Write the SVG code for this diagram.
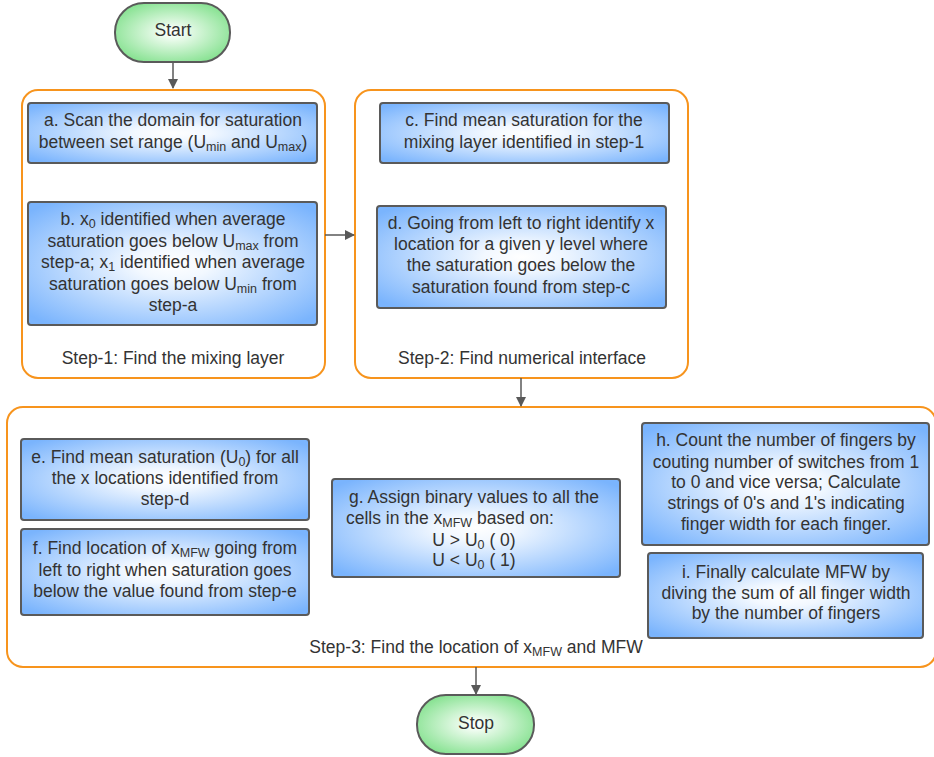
<svg xmlns="http://www.w3.org/2000/svg" width="934" height="757" viewBox="0 0 934 757">
<defs>
<radialGradient id="gBlue" cx="50%" cy="50%" r="65%">
<stop offset="0" stop-color="#ffffff"/>
<stop offset="0.2" stop-color="#f2f8ff"/>
<stop offset="1" stop-color="#7ab4fd"/>
</radialGradient>
<radialGradient id="gGreen" cx="50%" cy="50%" r="65%">
<stop offset="0" stop-color="#ffffff"/>
<stop offset="0.15" stop-color="#effcf0"/>
<stop offset="1" stop-color="#74dd80"/>
</radialGradient>
<marker id="arr" markerWidth="10" markerHeight="10" refX="9" refY="5" orient="auto" markerUnits="userSpaceOnUse">
<path d="M0,0 L10,5 L0,10 Z" fill="#595959"/>
</marker>
<style>
.box{fill:url(#gBlue);stroke:#5a5a5a;stroke-width:2}
.term{fill:url(#gGreen);stroke:#5a5a5a;stroke-width:2}
.grp{fill:#ffffff;stroke:#f7941d;stroke-width:2}
.t{font-family:"Liberation Sans",Arial,sans-serif;font-size:17.5px;fill:#333333;text-anchor:middle}
.l{text-anchor:start}
.s{font-size:12.5px}
.c{fill:none;stroke:#595959;stroke-width:1.5}
</style>
</defs>

<g id="step1">
<rect class="grp" x="22" y="90" width="303" height="288" rx="16"/>
<text class="t" x="173" y="364">Step-1: Find the mixing layer</text>
</g>
<g id="step2">
<rect class="grp" x="355" y="90" width="333" height="288" rx="16"/>
<text class="t" x="522" y="364">Step-2: Find numerical interface</text>
</g>
<g id="step3">
<rect class="grp" x="7" y="407" width="929" height="260" rx="16"/>
<text class="t" x="476" y="653">Step-3: Find the location of x<tspan class="s" dy="3">MFW</tspan><tspan dy="-3"> and MFW</tspan></text>
</g>

<g id="connectors">
<line class="c" x1="173" y1="62" x2="173" y2="88" marker-end="url(#arr)"/>
<line class="c" x1="325" y1="235" x2="354" y2="235" marker-end="url(#arr)"/>
<line class="c" x1="521" y1="378" x2="521" y2="406" marker-end="url(#arr)"/>
<line class="c" x1="476" y1="667" x2="476" y2="694" marker-end="url(#arr)"/>
</g>

<g id="start">
<rect class="term" x="115" y="3" width="115" height="59" rx="29"/>
<text class="t" x="173" y="36">Start</text>
</g>

<g id="a">
<rect class="box" x="28" y="103" width="289" height="60" rx="3"/>
<text class="t" x="173" y="126">a. Scan the domain for saturation</text>
<text class="t" x="173" y="148">between set range (U<tspan class="s" dy="3">min</tspan><tspan dy="-3"> and U</tspan><tspan class="s" dy="3">max</tspan><tspan dy="-3">)</tspan></text>
</g>

<g id="b">
<rect class="box" x="28" y="202" width="289" height="123" rx="3"/>
<text class="t" x="173" y="225">b. x<tspan class="s" dy="3">0</tspan><tspan dy="-3"> identified when average</tspan></text>
<text class="t" x="173" y="247">saturation goes below U<tspan class="s" dy="3">max</tspan><tspan dy="-3"> from</tspan></text>
<text class="t" x="173" y="268">step-a; x<tspan class="s" dy="3">1</tspan><tspan dy="-3"> identified when average</tspan></text>
<text class="t" x="173" y="290">saturation goes below U<tspan class="s" dy="3">min</tspan><tspan dy="-3"> from</tspan></text>
<text class="t" x="173" y="311">step-a</text>
</g>

<g id="c">
<rect class="box" x="380" y="103" width="289" height="60" rx="3"/>
<text class="t" x="524" y="126">c. Find mean saturation for the</text>
<text class="t" x="524" y="148">mixing layer identified in step-1</text>
</g>

<g id="d">
<rect class="box" x="377" y="206" width="289" height="102" rx="3"/>
<text class="t" x="521" y="229">d. Going from left to right identify x</text>
<text class="t" x="521" y="250">location for a given y level where</text>
<text class="t" x="521" y="271">the saturation goes below the</text>
<text class="t" x="521" y="293">saturation found from step-c</text>
</g>

<g id="e">
<rect class="box" x="21" y="439" width="288" height="81" rx="3"/>
<text class="t" x="165" y="463">e. Find mean saturation (U<tspan class="s" dy="3">0</tspan><tspan dy="-3">) for all</tspan></text>
<text class="t" x="165" y="484">the x locations identified from</text>
<text class="t" x="165" y="505">step-d</text>
</g>

<g id="f">
<rect class="box" x="21" y="529" width="288" height="86" rx="3"/>
<text class="t" x="165" y="554">f. Find location of x<tspan class="s" dy="3">MFW</tspan><tspan dy="-3"> going from</tspan></text>
<text class="t" x="165" y="576">left to right when saturation goes</text>
<text class="t" x="165" y="597">below the value found from step-e</text>
</g>

<g id="g">
<rect class="box" x="332" y="479" width="288" height="98" rx="3"/>
<text class="t l" x="349" y="503">g. Assign binary values to all the</text>
<text class="t l" x="346" y="524">cells in the x<tspan class="s" dy="3">MFW</tspan><tspan dy="-3"> based on:</tspan></text>
<text class="t" x="474" y="546">U &gt; U<tspan class="s" dy="3">0</tspan><tspan dy="-3"> ( 0)</tspan></text>
<text class="t" x="474" y="566">U &lt; U<tspan class="s" dy="3">0</tspan><tspan dy="-3"> ( 1)</tspan></text>
</g>

<g id="h">
<rect class="box" x="642" y="423" width="287" height="122" rx="3"/>
<text class="t" x="786" y="446">h. Count the number of fingers by</text>
<text class="t" x="786" y="468">couting number of switches from 1</text>
<text class="t" x="786" y="488">to 0 and vice versa; Calculate</text>
<text class="t" x="786" y="509">strings of 0's and 1's indicating</text>
<text class="t" x="786" y="530">finger width for each finger.</text>
</g>

<g id="i">
<rect class="box" x="648" y="553" width="275" height="85" rx="3"/>
<text class="t" x="786" y="578">i. Finally calculate MFW by</text>
<text class="t" x="786" y="599">diving the sum of all finger width</text>
<text class="t" x="786" y="619">by the number of fingers</text>
</g>

<g id="stop">
<rect class="term" x="417" y="695" width="117" height="59" rx="29"/>
<text class="t" x="476" y="729">Stop</text>
</g>
</svg>
